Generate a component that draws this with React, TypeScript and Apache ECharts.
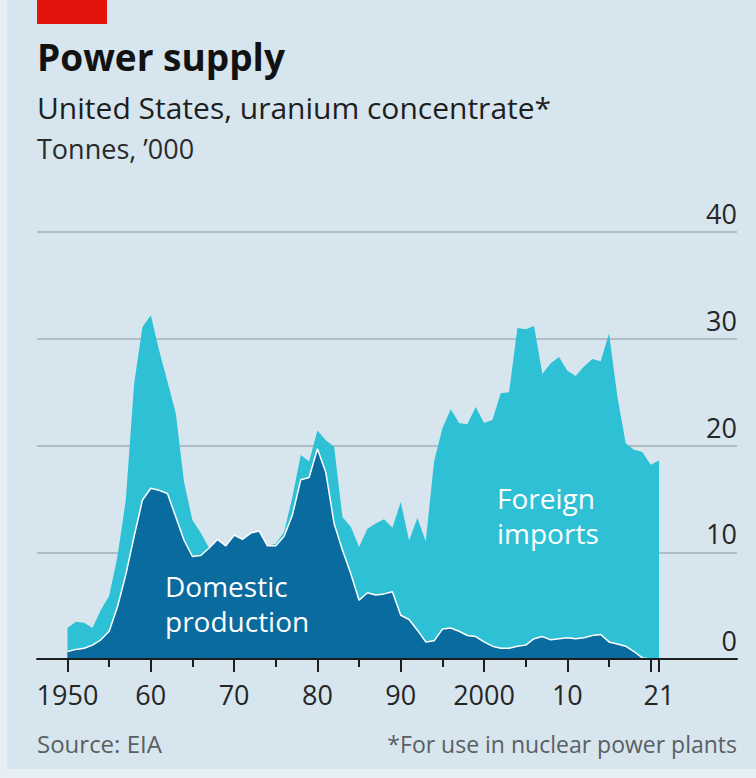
import React, { useEffect, useRef } from "react";
import * as echarts from "echarts";

const years = [
  1950, 1951, 1952, 1953, 1954, 1955, 1956, 1957, 1958, 1959,
  1960, 1961, 1962, 1963, 1964, 1965, 1966, 1967, 1968, 1969,
  1970, 1971, 1972, 1973, 1974, 1975, 1976, 1977, 1978, 1979,
  1980, 1981, 1982, 1983, 1984, 1985, 1986, 1987, 1988, 1989,
  1990, 1991, 1992, 1993, 1994, 1995, 1996, 1997, 1998, 1999,
  2000, 2001, 2002, 2003, 2004, 2005, 2006, 2007, 2008, 2009,
  2010, 2011, 2012, 2013, 2014, 2015, 2016, 2017, 2018, 2019,
  2020, 2021,
];

// Tonnes, '000 — domestic production
const domestic = [
  0.7, 0.9, 1.0, 1.3, 1.8, 2.6, 4.9, 7.9, 11.5, 14.9,
  16.0, 15.8, 15.5, 13.3, 11.1, 9.6, 9.7, 10.4, 11.2, 10.6,
  11.6, 11.2, 11.8, 12.0, 10.6, 10.6, 11.5, 13.5, 16.8, 17.0,
  19.7, 17.5, 12.7, 10.2, 8.0, 5.5, 6.2, 6.0, 6.1, 6.3,
  4.1, 3.7, 2.7, 1.6, 1.7, 2.8, 2.9, 2.6, 2.2, 2.1,
  1.6, 1.2, 1.0, 1.0, 1.2, 1.3, 1.9, 2.1, 1.8, 1.9,
  2.0, 1.9, 2.0, 2.2, 2.3, 1.6, 1.4, 1.2, 0.7, 0.1,
  0.0, 0.0,
];

// Tonnes, '000 — total supply (domestic production + foreign imports), top of the light band
const totalSupply = [
  2.9, 3.5, 3.4, 2.9, 4.6, 5.9, 9.6, 14.9, 25.8, 31.1,
  32.2, 28.9, 26.0, 23.0, 16.5, 13.0, 11.8, 10.4, 11.2, 10.6,
  11.6, 11.2, 11.8, 12.0, 10.6, 10.8, 11.9, 15.2, 19.1, 18.5,
  21.4, 20.5, 19.9, 13.3, 12.4, 10.5, 12.2, 12.7, 13.1, 12.3,
  14.7, 11.1, 13.2, 11.0, 18.5, 21.6, 23.4, 22.1, 22.0, 23.6,
  22.1, 22.4, 24.9, 25.0, 31.0, 30.9, 31.2, 26.7, 27.7, 28.3,
  27.0, 26.5, 27.4, 28.1, 27.9, 30.5, 24.6, 20.2, 19.6, 19.4,
  18.2, 18.6,
];

const xLabelValues = [1950, 1960, 1970, 1980, 1990, 2000, 2010, 2021];
const xMajorTicks = [1950, 1960, 1970, 1980, 1990, 2000, 2010, 2020, 2021];
const xMinorTicks = [1955, 1965, 1975, 1985, 1995, 2005, 2015];

const FONT = "'Open Sans', 'Noto Sans', sans-serif";
const BG = "#d6e5ee";
const DARK = "#0a6b9e";
const LIGHT = "#2ec0d4";

export default function App() {
  const ref = useRef<HTMLDivElement>(null);

  useEffect(() => {
    document.body.style.margin = "0";
    if (!ref.current) return;
    const chart = echarts.init(ref.current, undefined, { renderer: "svg" });

    const xMin = 1946.34;
    const xMax = 2030.36;

    const option: any = {
      animation: false,
      backgroundColor: BG,
      grid: { left: 37, right: 19, top: 232, bottom: 119 },
      xAxis: [
        {
          type: "value",
          min: xMin,
          max: xMax,
          splitLine: { show: false },
          axisLine: { show: true, lineStyle: { color: "#1e1e1e", width: 2 } },
          axisTick: {
            show: true,
            customValues: xMajorTicks,
            length: 13,
            lineStyle: { color: "#1e1e1e", width: 2 },
          },
          axisLabel: {
            customValues: xLabelValues,
            margin: 22,
            fontFamily: FONT,
            fontSize: 27,
            color: "#262626",
            formatter: (v: number) =>
              v === 1950 || v === 2000 ? String(v) : String(v % 100).padStart(2, "0"),
          },
          z: 5,
        },
        {
          type: "value",
          min: xMin,
          max: xMax,
          position: "bottom",
          splitLine: { show: false },
          axisLine: { show: false },
          axisTick: {
            show: true,
            customValues: xMinorTicks,
            length: 8,
            lineStyle: { color: "#1e1e1e", width: 2 },
          },
          axisLabel: { show: false },
        },
      ],
      yAxis: {
        type: "value",
        position: "right",
        min: 0,
        max: 40,
        interval: 10,
        axisLine: { show: false },
        axisTick: { show: false },
        splitLine: { show: true, lineStyle: { color: "#a3afb7", width: 1.5 } },
        axisLabel: {
          inside: true,
          margin: 0,
          fontFamily: FONT,
          fontSize: 27,
          color: "#262626",
          verticalAlign: "bottom",
          lineHeight: 27,
          padding: [0, 0, 5, 0],
        },
      },
      series: [
        {
          name: "Foreign imports",
          type: "line",
          data: years.map((y, i) => [y, totalSupply[i]]),
          showSymbol: false,
          symbol: "none",
          lineStyle: { width: 0, color: LIGHT },
          areaStyle: { color: LIGHT, opacity: 1 },
          z: 2,
        },
        {
          name: "Domestic production",
          type: "line",
          data: years.map((y, i) => [y, domestic[i]]),
          showSymbol: false,
          symbol: "none",
          lineStyle: { color: "#ffffff", width: 1.5 },
          areaStyle: { color: DARK, opacity: 1 },
          z: 3,
        },
      ],
      graphic: [
        { type: "rect", shape: { x: 0, y: 0, width: 7, height: 778 }, style: { fill: "#e6eff4" }, z: 100 },
        { type: "rect", shape: { x: 0, y: 769, width: 756, height: 9 }, style: { fill: "#e6eff4" }, z: 100 },
        { type: "rect", shape: { x: 37, y: 0, width: 70, height: 24 }, style: { fill: "#e3120b" }, z: 100 },
        {
          type: "text",
          x: 37,
          y: 71 - 0.39 * 37,
          style: { text: "Power supply", fontFamily: FONT, fontWeight: "bold", fontSize: 37, fill: "#121212", verticalAlign: "middle" },
          z: 100,
        },
        {
          type: "text",
          x: 37,
          y: 119 - 0.39 * 30,
          style: { text: "United States, uranium concentrate*", fontFamily: FONT, fontSize: 30, fill: "#1e1e1e", verticalAlign: "middle" },
          z: 100,
        },
        {
          type: "text",
          x: 37,
          y: 159 - 0.39 * 27,
          style: { text: "Tonnes, \u2019000", fontFamily: FONT, fontSize: 27, fill: "#2a2a2a", verticalAlign: "middle" },
          z: 100,
        },
        {
          type: "text",
          x: 165,
          y: 597 - 17.5 - 0.39 * 28,
          style: {
            text: "Domestic\nproduction",
            fontFamily: FONT,
            fontSize: 28,
            lineHeight: 35,
            fill: "#ffffff",
            verticalAlign: "top",
          },
          z: 100,
        },
        {
          type: "text",
          x: 497,
          y: 509 - 17.5 - 0.39 * 28,
          style: {
            text: "Foreign\nimports",
            fontFamily: FONT,
            fontSize: 28,
            lineHeight: 35,
            fill: "#ffffff",
            verticalAlign: "top",
          },
          z: 100,
        },
        {
          type: "text",
          x: 37,
          y: 753 - 0.39 * 24,
          style: { text: "Source: EIA", fontFamily: FONT, fontSize: 24, fill: "#5a5f63", verticalAlign: "middle" },
          z: 100,
        },
        {
          type: "text",
          x: 737,
          y: 753 - 0.39 * 23,
          style: { text: "*For use in nuclear power plants", fontFamily: FONT, fontSize: 23, fill: "#5a5f63", verticalAlign: "middle", align: "right" },
          z: 100,
        },
      ],
    };

    chart.setOption(option);
    return () => chart.dispose();
  }, []);

  return <div ref={ref} style={{ width: 756, height: 778 }} />;
}
